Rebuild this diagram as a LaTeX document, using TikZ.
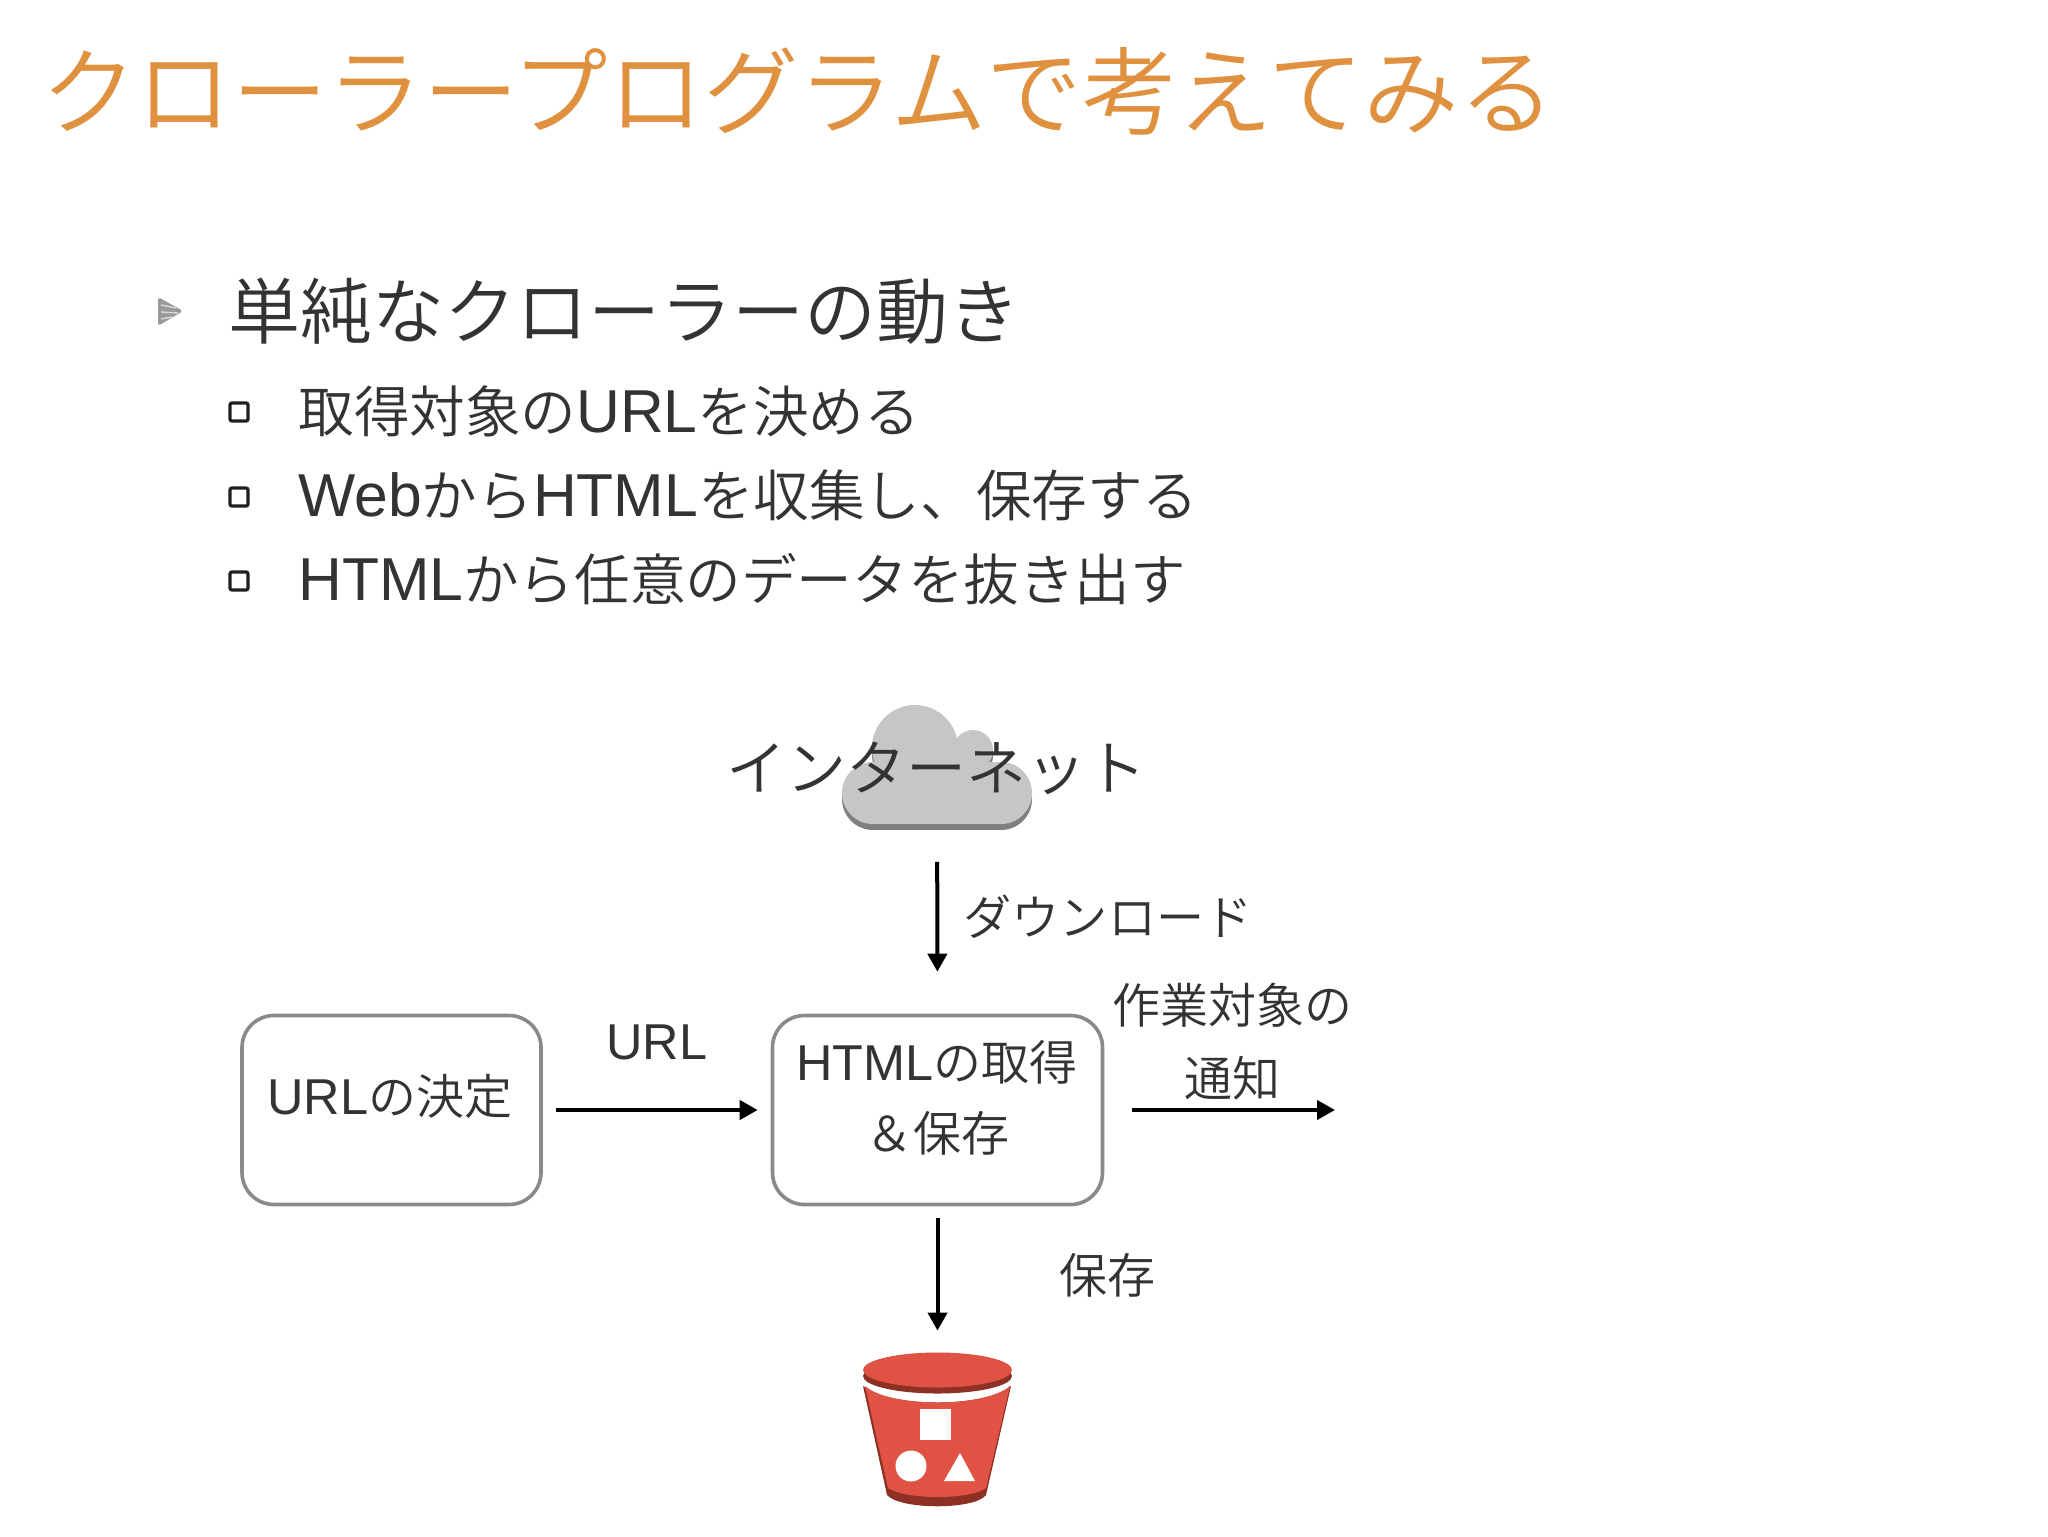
\documentclass[tikz,border=0pt]{standalone}
\usepackage{fontspec}
\setmainfont{Noto Sans CJK JP DemiLight}
\newfontfamily\lat[Scale=1.05]{Liberation Sans}
\newfontfamily\latwide[Scale=1.09]{Liberation Sans}
\usetikzlibrary{arrows.meta}
\definecolor{titleorange}{HTML}{E0913F}
\definecolor{inkgrey}{HTML}{333333}
\definecolor{boxgrey}{HTML}{8A8A8A}
\definecolor{cloudlight}{HTML}{C7C5C8}
\definecolor{clouddark}{HTML}{808080}
\definecolor{bucketred}{HTML}{E05243}
\definecolor{bucketdark}{HTML}{8C3123}
\newcommand{\puffs}[1]{%
  \fill[#1] (873,793) circle[radius=31];
  \fill[#1] (1001,793) circle[radius=31];
  \fill[#1] (915,748) circle[radius=43];
  \fill[#1] (973,750) circle[radius=20];
  \fill[#1] (873,762) rectangle (1001,824);
  \fill[#1] (915,748) rectangle (973,790);
}
\newcommand{\sqbullet}[1]{%
  \draw[line width=1.6pt,color=inkgrey!60!black,fill=white,rounded corners=1pt] (230,#1-9) rectangle (248,#1+9);
}
\tikzset{
  lbl/.style={inner sep=0pt,text=inkgrey},
  flow/.style={-{Triangle[length=9pt,width=9.5pt]},line width=2pt,color=black},
  procbox/.style={draw=boxgrey,line width=1.8pt,rounded corners=16pt,fill=white,inner sep=0pt},
}
\begin{document}
\begin{tikzpicture}[x=0.5pt,y=-0.5pt]
\useasboundingbox (0,0) rectangle (2048,1536);
\fill[white] (0,0) rectangle (2048,1536);
% title
\node[lbl,anchor=west,text=titleorange,font=\fontsize{47.7}{50}\selectfont] (title) at (41,91) {クローラープログラムで考えてみる};
% bullets
\fill[black!40,rounded corners=1.5pt] (158,297) -- (183,311) -- (158,326) -- cycle;
\draw[white!85!black,line width=.7pt] (161,305) -- (176,308) (161,312) -- (178,313) (161,319) -- (172,317);
\node[lbl,anchor=west,font=\fontsize{36}{40}\selectfont] (head) at (228,311) {単純なクローラーの動き};
\sqbullet{412}\sqbullet{497}\sqbullet{581}
\node[lbl,anchor=west,font=\fontsize{27.8}{32}\selectfont] (s1) at (298,411) {取得対象の{\latwide URL}を決める};
\node[lbl,anchor=west,font=\fontsize{27.8}{32}\selectfont] (s2) at (298,495) {{\latwide Web}から{\latwide HTML}を収集し、保存する};
\node[lbl,anchor=west,font=\fontsize{27.8}{32}\selectfont] (s3) at (298,579) {{\latwide HTML}から任意のデータを抜き出す};
% cloud
\begin{scope}[yshift=-3pt]\puffs{clouddark}\end{scope}
\puffs{cloudlight}
\node[inner sep=0pt,minimum width=95pt,minimum height=62.5pt] (cloud) at (937,767) {};
\node[lbl,font=\fontsize{30}{34}\selectfont] (inet) at (936,768) {インターネット};
% boxes
\node[procbox,minimum width=149.5pt,minimum height=94.5pt] (urlbox) at (391.5,1110) {};
\node[procbox,minimum width=165pt,minimum height=94.5pt] (htmlbox) at (937.5,1110) {};
\node[lbl,font=\fontsize{24}{30}\selectfont] (urltext) at (390,1096) {{\lat URL}の決定};
\node[lbl,align=center,font=\fontsize{24}{35.5}\selectfont] (htmltext) at (937,1098) {{\lat HTML}の取得\\＆保存};
\node[lbl,font=\fontsize{24}{30}\selectfont] (urllbl) at (657,1042) {\lat URL};
\node[lbl,font=\fontsize{24.1}{30}\selectfont] (dl) at (1108,917) {ダウンロード};
\node[lbl,align=center,font=\fontsize{24}{36.5}\selectfont] (notelbl) at (1232,1042) {作業対象の\\通知};
\node[lbl,font=\fontsize{24}{30}\selectfont] (savelbl) at (1107,1275) {保存};
% bucket
\fill[bucketdark] (863,1386) .. controls (890,1408) and (985,1408) .. (1011,1386) -- (986,1495)
  .. controls (975,1510) and (900,1510) .. (887,1495) -- cycle;
\fill[bucketred] (865,1386) .. controls (890,1408) and (985,1408) .. (1010,1386) -- (986,1488)
  .. controls (970,1500) and (905,1500) .. (888,1488) -- cycle;
\fill[bucketdark] (937.5,1376) ellipse[x radius=74.5,y radius=17.5];
\fill[bucketred] (937.5,1370) ellipse[x radius=74.5,y radius=17.5];
\fill[white] (920,1409) rectangle (951,1440);
\fill[white] (911,1466) circle[radius=15.5];
\fill[white] (944,1481) -- (975,1481) -- (960,1453) -- cycle;
\node[inner sep=0pt,minimum width=74.5pt,minimum height=76pt] (bucket) at (937.5,1429) {};
% connectors
\coordinate (notify) at (1335,1110);
\draw[flow,shorten <=16pt,shorten >=21pt] (cloud) -- (htmlbox.north);
\draw[flow,shorten <=6.5pt,shorten >=6.5pt] (urlbox.east) -- (htmlbox.west);
\draw[flow,shorten <=14pt] (htmlbox.east) -- (notify);
\draw[flow,shorten <=6pt,shorten >=11pt] (htmlbox.south) -- (bucket.north);
\end{tikzpicture}
\end{document}
